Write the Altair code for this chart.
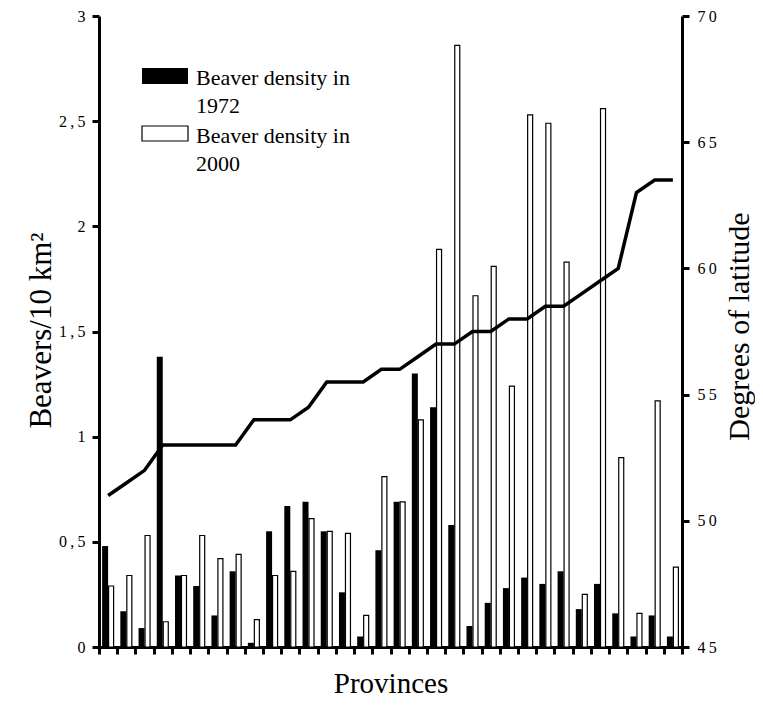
import altair as alt
import pandas as pd

# ---- data ----
provinces = list(range(1, 33))
density_1972 = [0.48, 0.17, 0.09, 1.38, 0.34, 0.29, 0.15, 0.36, 0.02, 0.55,
                0.67, 0.69, 0.55, 0.26, 0.05, 0.46, 0.69, 1.30, 1.14, 0.58,
                0.10, 0.21, 0.28, 0.33, 0.30, 0.36, 0.18, 0.30, 0.16, 0.05,
                0.15, 0.05]
density_2000 = [0.29, 0.34, 0.53, 0.12, 0.34, 0.53, 0.42, 0.44, 0.13, 0.34,
                0.36, 0.61, 0.55, 0.54, 0.15, 0.81, 0.69, 1.08, 1.89, 2.86,
                1.67, 1.81, 1.24, 2.53, 2.49, 1.83, 0.25, 2.56, 0.90, 0.16,
                1.17, 0.38]
latitude = [51.0, 51.5, 52.0, 53.0, 53.0, 53.0, 53.0, 53.0, 54.0, 54.0,
            54.0, 54.5, 55.5, 55.5, 55.5, 56.0, 56.0, 56.5, 57.0, 57.0,
            57.5, 57.5, 58.0, 58.0, 58.5, 58.5, 59.0, 59.5, 60.0, 63.0,
            63.5, 63.5]
legend_labels = ["Beaver density in\n1972", "Beaver density in\n2000"]
density_ticks = [0, 0.5, 1, 1.5, 2, 2.5, 3]
latitude_ticks = [45, 50, 55, 60, 65, 70]

df = pd.DataFrame({
    "province": provinces,
    "pos": [p - 0.5 for p in provinces],
    "d1972": density_1972,
    "d2000": density_2000,
    "lat": latitude,
})

FONT = "Liberation Serif, Times New Roman, serif"
SPACED = "join(split({v}, ''), '\u2009')"

common_axis = dict(
    labelFont=FONT,
    labelFontSize=16,
    labelColor="black",
    titleFont=FONT,
    titleFontWeight="normal",
    titleColor="black",
    domainColor="black",
    domainWidth=3,
    tickColor="black",
    tickWidth=3,
    tickSize=7,
    grid=False,
)

x_enc = alt.X(
    "pos:Q",
    scale=alt.Scale(domain=[0, len(provinces)], nice=False, zero=False, padding=0),
    axis=alt.Axis(
        values=list(range(len(provinces) + 1)),
        labels=False,
        title="Provinces",
        titleFontSize=29,
        titleBaseline="alphabetic",
        titleY=45,
        **common_axis,
    ),
)

y_axis = alt.Axis(
    values=density_ticks,
    labelExpr=SPACED.format(v="replace(format(datum.value, '~g'), '.', ',')"),
    title="Beavers/10 km²",
    titleAngle=270,
    titleFontSize=31,
    titleBaseline="alphabetic",
    titleAlign="center",
    titleX=-49,
    titleY=314,
    labelPadding=7,
    **common_axis,
)
y_scale = alt.Scale(domain=[0, 3], nice=False, padding=0)

base = alt.Chart(df)

bars72 = base.mark_bar(width=6, xOffset=-3, color="black").encode(
    x=x_enc,
    y=alt.Y("d1972:Q", scale=y_scale, axis=y_axis),
)
bars00 = base.mark_bar(width=5, xOffset=3, fill="white", stroke="black",
                       strokeWidth=1.2).encode(
    x=x_enc,
    y=alt.Y("d2000:Q", scale=y_scale, axis=y_axis),
)
bars = alt.layer(bars72, bars00)

line = base.mark_line(color="black", strokeWidth=3.5).encode(
    x=x_enc,
    y=alt.Y(
        "lat:Q",
        scale=alt.Scale(domain=[45, 70], nice=False, zero=False, padding=0),
        axis=alt.Axis(
            orient="right",
            values=latitude_ticks,
            labelExpr=SPACED.format(v="datum.label"),
            title="Degrees of latitude",
            titleAngle=270,
            titleFontSize=30,
            titleBaseline="alphabetic",
            titleAlign="center",
            titleX=66,
            titleY=310,
            labelPadding=8,
            **common_axis,
        ),
    ),
)

# ---- legend (drawn as plain marks) ----
leg1 = pd.DataFrame({"label": [legend_labels[0]]})
leg2 = pd.DataFrame({"label": [legend_labels[1]]})
sw1 = alt.Chart(leg1).mark_rect(color="black").encode(
    x=alt.value(43), x2=alt.value(89), y=alt.value(52), y2=alt.value(68))
sw2 = alt.Chart(leg2).mark_rect(fill="white", stroke="black", strokeWidth=1.2).encode(
    x=alt.value(43), x2=alt.value(89), y=alt.value(110), y2=alt.value(125))
tx1 = alt.Chart(leg1).mark_text(align="left", baseline="alphabetic", font=FONT,
                                fontSize=22, lineBreak="\n", lineHeight=28).encode(
    text="label:N", x=alt.value(97), y=alt.value(69))
tx2 = alt.Chart(leg2).mark_text(align="left", baseline="alphabetic", font=FONT,
                                fontSize=22, lineBreak="\n", lineHeight=28).encode(
    text="label:N", x=alt.value(97), y=alt.value(127))
legend = alt.layer(sw1, sw2, tx1, tx2)

chart = alt.layer(bars, line, legend).resolve_scale(y="independent").properties(
    width=583,
    height=631,
    autosize=alt.AutoSizeParams(type="none"),
    padding={"left": 91, "top": 8, "right": 73, "bottom": 52},
).configure_view(stroke=None)

chart.save("out.html", embed_options={"renderer": "svg", "actions": False})
